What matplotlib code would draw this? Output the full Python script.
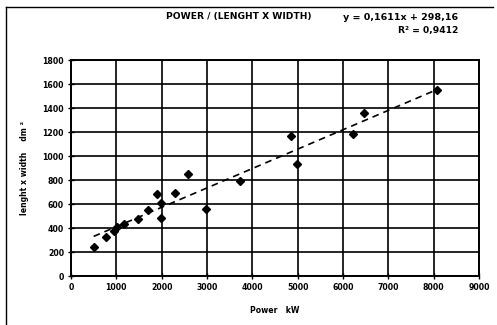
import matplotlib
matplotlib.use("Agg")
import matplotlib.pyplot as plt
from matplotlib.lines import Line2D

# power (kW) vs length x width (dm2)
power = [500, 765, 950, 1020, 1170, 1480, 1700, 1905, 1980, 1980,
         2290, 2590, 2970, 3720, 4850, 4990, 6220, 6460, 8080]
area  = [245, 329, 376, 412, 431, 473, 550, 680, 611, 487,
         694, 846, 556, 790, 1169, 937, 1186, 1362, 1551]

# dashed trend line as drawn in the chart
trend_x = [500, 8050]
trend_y = [330, 1550]

SLOPE = "0,1611"
INTERCEPT = "298,16"
R2 = "0,9412"

x_ticks = [0, 1000, 2000, 3000, 4000, 5000, 6000, 7000, 8000, 9000]
y_ticks = [0, 200, 400, 600, 800, 1000, 1200, 1400, 1600, 1800]

W, H = 497, 325
fig = plt.figure(figsize=(W / 100, H / 100), dpi=100)
fig.patch.set_facecolor("white")

ax = fig.add_axes([71 / W, 1 - 276 / H, (479 - 71) / W, (276 - 60) / H])
ax.set_xlim(0, 9000)
ax.set_ylim(0, 1800)
ax.set_xticks(x_ticks)
ax.set_yticks(y_ticks)
ax.grid(True, color="black", linewidth=1.2)
ax.set_axisbelow(True)
for sp in ax.spines.values():
    sp.set_linewidth(1.4)
ax.tick_params(direction="inout", length=4, width=1.0, labelsize=5.6, pad=3)
for lbl in ax.get_xticklabels() + ax.get_yticklabels():
    lbl.set_fontweight("bold")

ax.plot(power, area, "D", color="black", ms=3.8, zorder=3)
ax.plot(trend_x, trend_y, color="black", lw=1.2, ls=(0, (4, 3)), zorder=3)

ax.set_xlabel("Power   kW", fontsize=5.6, fontweight="bold", labelpad=10)
ax.set_ylabel("lenght x width    dm ²", fontsize=5.6, fontweight="bold", labelpad=10)

fig.text(239 / W, 1 - 17 / H, "POWER / (LENGHT X WIDTH)", fontsize=6.6,
         fontweight="bold", ha="center", va="center")
fig.text(401 / W, 1 - 17 / H, f"y = {SLOPE}x + {INTERCEPT}",
         fontsize=6.8, fontweight="bold", ha="center", va="center")
fig.text(428 / W, 1 - 30 / H, f"R² = {R2}",
         fontsize=6.6, fontweight="bold", ha="center", va="center")

# outer chart border (left and top)
fig.add_artist(Line2D([6 / W, 6 / W], [0, 1 - 7 / H], color="black", lw=1.0))
fig.add_artist(Line2D([6 / W, 493 / W], [1 - 7 / H, 1 - 7 / H], color="black", lw=1.0))

fig.savefig("out.png", dpi=100, facecolor="white")
